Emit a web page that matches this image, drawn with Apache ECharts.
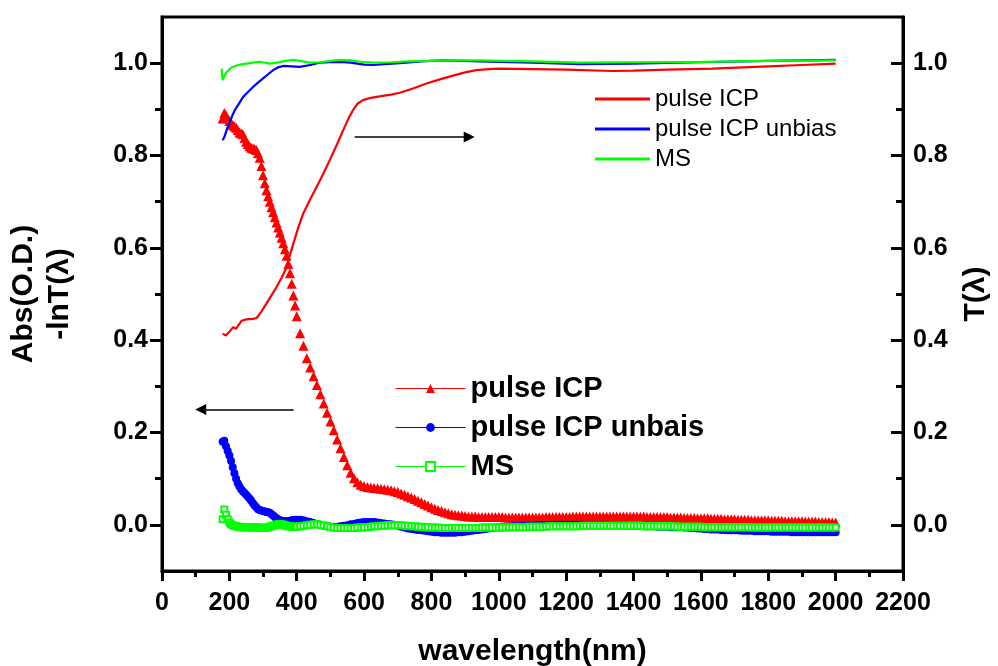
<!DOCTYPE html>
<html>
<head>
<meta charset="utf-8">
<script src="https://cdn.jsdelivr.net/npm/echarts@6/dist/echarts.min.js"></script>
<style>
  html, body { margin: 0; padding: 0; background: #fff; }
  #chart { width: 998px; height: 666px; }
</style>
</head>
<body>
<div id="chart"></div>
<script>
// wavelength sampling of the absorbance points (nm): 5 nm up to 400, then 10 nm
const range = (a, b, step) => {
  const out = []
  for (let v = a; v <= b; v += step) out.push(v)
  return out
}
const wl = range(180, 400, 5).concat(range(410, 2000, 10))

// Abs(O.D.) = -lnT, left axis (one value per wl entry)
const absPulse = [
  // 180 - 400, 5 nm
  0.880, 0.892, 0.887, 0.880, 0.875, 0.870, 0.866, 0.863, 0.860, 0.855,
  0.850, 0.848, 0.846, 0.838, 0.830, 0.825, 0.820, 0.817, 0.815, 0.814,
  0.812, 0.805, 0.795, 0.777, 0.757, 0.740, 0.725, 0.712, 0.700, 0.688,
  0.677, 0.666, 0.655, 0.644, 0.633, 0.622, 0.610, 0.597, 0.583, 0.565,
  0.545, 0.522, 0.497, 0.475, 0.452,
  // 410 - 1000
  0.415, 0.388, 0.361, 0.341, 0.322, 0.303, 0.283, 0.263, 0.243, 0.224,
  0.205, 0.185, 0.166, 0.147, 0.129, 0.113, 0.101, 0.092, 0.087, 0.084,
  0.082, 0.081, 0.080, 0.079, 0.078, 0.077, 0.076, 0.075, 0.073, 0.071,
  0.068, 0.065, 0.062, 0.059, 0.056, 0.052, 0.049, 0.045, 0.042, 0.038,
  0.035, 0.032, 0.030, 0.027, 0.025, 0.023, 0.022, 0.021, 0.020, 0.019,
  0.018, 0.018, 0.018, 0.017, 0.017, 0.017, 0.017, 0.017, 0.017, 0.017,
  // 1010 - 2000
  0.017, 0.016, 0.016, 0.016, 0.016, 0.016, 0.016, 0.016, 0.016, 0.016,
  0.016, 0.016, 0.016, 0.017, 0.017, 0.017, 0.017, 0.017, 0.017, 0.017,
  0.017, 0.018, 0.018, 0.018, 0.018, 0.018, 0.018, 0.018, 0.018, 0.018,
  0.018, 0.018, 0.018, 0.018, 0.018, 0.018, 0.018, 0.018, 0.018, 0.018,
  0.018, 0.018, 0.018, 0.017, 0.017, 0.017, 0.017, 0.017, 0.017, 0.017,
  0.016, 0.016, 0.016, 0.016, 0.015, 0.015, 0.015, 0.015, 0.014, 0.014,
  0.014, 0.014, 0.013, 0.013, 0.013, 0.013, 0.012, 0.012, 0.012, 0.012,
  0.011, 0.011, 0.011, 0.011, 0.010, 0.010, 0.010, 0.010, 0.010, 0.010,
  0.009, 0.009, 0.009, 0.009, 0.008, 0.008, 0.008, 0.008, 0.008, 0.008,
  0.007, 0.007, 0.007, 0.007, 0.006, 0.006, 0.006, 0.006, 0.005, 0.005
]
const absUnbias = [
  0.180, 0.182, 0.170, 0.160, 0.150, 0.138, 0.125, 0.112, 0.100, 0.090,
  0.083, 0.077, 0.073, 0.069, 0.065, 0.061, 0.057, 0.052, 0.047, 0.042,
  0.038, 0.034, 0.032, 0.031, 0.030, 0.029, 0.028, 0.027, 0.026, 0.023,
  0.020, 0.017, 0.014, 0.012, 0.010, 0.009, 0.008, 0.008, 0.008, 0.008,
  0.009, 0.010, 0.010, 0.011, 0.011,
  0.011, 0.010, 0.008, 0.006, 0.004, 0.002, 0.000, -0.002, -0.003, -0.004,
  -0.004, -0.004, -0.003, -0.002, -0.001, 0.001, 0.002, 0.004, 0.005, 0.006,
  0.006, 0.006, 0.006, 0.005, 0.004, 0.003, 0.002, 0.001, 0.000, -0.002,
  -0.004, -0.006, -0.008, -0.009, -0.010, -0.011, -0.012, -0.013, -0.014, -0.015,
  -0.016, -0.016, -0.017, -0.017, -0.017, -0.017, -0.017, -0.016, -0.016, -0.015,
  -0.014, -0.013, -0.012, -0.011, -0.010, -0.009, -0.008, -0.007, -0.006, -0.005,
  -0.005, -0.004, -0.004, -0.003, -0.003, -0.003, -0.002, -0.002, -0.002, -0.002,
  -0.001, -0.001, -0.001, -0.001, -0.001, -0.001, 0.000, 0.000, 0.000, 0.000,
  0.000, 0.000, 0.000, 0.000, 0.000, 0.000, 0.000, 0.000, 0.000, 0.000,
  0.000, 0.000, -0.001, -0.001, -0.001, -0.001, -0.001, -0.001, -0.002, -0.002,
  -0.002, -0.002, -0.003, -0.003, -0.003, -0.003, -0.004, -0.004, -0.004, -0.004,
  -0.005, -0.005, -0.005, -0.005, -0.006, -0.006, -0.007, -0.007, -0.008, -0.008,
  -0.009, -0.009, -0.010, -0.010, -0.010, -0.011, -0.011, -0.012, -0.012, -0.012,
  -0.012, -0.013, -0.013, -0.013, -0.013, -0.014, -0.014, -0.014, -0.014, -0.014,
  -0.015, -0.015, -0.015, -0.015, -0.015, -0.015, -0.016, -0.016, -0.016, -0.016,
  -0.016, -0.016, -0.016, -0.016, -0.016, -0.016, -0.016, -0.016, -0.016, -0.016
]
const absMS = [
  0.012, 0.033, 0.022, 0.012, 0.005, 0.001, -0.001, -0.002, -0.003, -0.004,
  -0.004, -0.005, -0.005, -0.005, -0.005, -0.005, -0.005, -0.006, -0.006, -0.006,
  -0.006, -0.006, -0.006, -0.007, -0.007, -0.007, -0.006, -0.005, -0.004, -0.003,
  -0.002, -0.001, 0.000, 0.001, 0.001, 0.001, 0.000, -0.001, -0.002, -0.003,
  -0.003, -0.004, -0.004, -0.004, -0.004,
  -0.003, -0.002, -0.001, 0.000, 0.001, 0.001, 0.000, -0.001, -0.003, -0.005,
  -0.006, -0.007, -0.007, -0.007, -0.007, -0.007, -0.007, -0.006, -0.006, -0.005,
  -0.005, -0.004, -0.003, -0.003, -0.002, -0.002, -0.001, -0.001, -0.001, -0.001,
  -0.001, -0.002, -0.002, -0.003, -0.003, -0.004, -0.004, -0.005, -0.005, -0.006,
  -0.006, -0.006, -0.007, -0.007, -0.007, -0.007, -0.007, -0.007, -0.007, -0.007,
  -0.007, -0.007, -0.007, -0.007, -0.006, -0.006, -0.006, -0.006, -0.006, -0.006,
  -0.006, -0.006, -0.005, -0.005, -0.005, -0.005, -0.005, -0.005, -0.004, -0.004,
  -0.004, -0.004, -0.004, -0.004, -0.003, -0.003, -0.003, -0.003, -0.003, -0.003,
  -0.003, -0.003, -0.003, -0.003, -0.002, -0.002, -0.002, -0.002, -0.002, -0.002,
  -0.002, -0.002, -0.002, -0.002, -0.002, -0.002, -0.002, -0.002, -0.002, -0.002,
  -0.002, -0.002, -0.003, -0.003, -0.003, -0.003, -0.003, -0.003, -0.003, -0.003,
  -0.003, -0.003, -0.004, -0.004, -0.004, -0.004, -0.004, -0.004, -0.004, -0.004,
  -0.005, -0.005, -0.005, -0.005, -0.005, -0.005, -0.005, -0.005, -0.005, -0.005,
  -0.005, -0.005, -0.005, -0.005, -0.006, -0.006, -0.006, -0.006, -0.006, -0.006,
  -0.006, -0.006, -0.006, -0.006, -0.006, -0.006, -0.006, -0.006, -0.006, -0.006,
  -0.006, -0.006, -0.006, -0.006, -0.006, -0.006, -0.006, -0.006, -0.006, -0.006
]

// transmittance T(λ), right axis, [nm, T]
const tPulse = [
  [180, 0.414], [190, 0.410], [200, 0.418], [211, 0.428], [220, 0.425], [236, 0.442],
  [250, 0.445], [270, 0.446], [281, 0.448], [295, 0.462], [310, 0.479], [325, 0.497],
  [340, 0.515], [355, 0.535], [370, 0.558], [380, 0.585], [390, 0.609], [405, 0.645],
  [419, 0.674], [440, 0.705], [459, 0.732], [480, 0.762], [498, 0.790], [520, 0.825],
  [538, 0.855], [555, 0.882], [567, 0.898], [580, 0.912], [597, 0.920], [620, 0.925],
  [646, 0.928], [680, 0.932], [706, 0.936], [745, 0.945], [785, 0.956], [825, 0.965],
  [864, 0.973], [900, 0.980], [933, 0.985], [970, 0.987], [1000, 0.988], [1100, 0.987],
  [1200, 0.986], [1337, 0.983], [1400, 0.984], [1500, 0.986], [1634, 0.988], [1800, 0.993],
  [1900, 0.996], [2000, 0.999]
]
const tUnbias = [
  [180, 0.833], [185, 0.840], [192, 0.855], [200, 0.870], [208, 0.885], [216, 0.898],
  [228, 0.912], [241, 0.927], [256, 0.938], [271, 0.949], [285, 0.958], [300, 0.967],
  [315, 0.976], [330, 0.985], [345, 0.991], [360, 0.994], [385, 0.993], [409, 0.992],
  [440, 0.996], [468, 1.001], [500, 1.002], [528, 1.003], [560, 1.001], [600, 0.997],
  [627, 0.996], [660, 0.998], [706, 1.000], [770, 1.004], [833, 1.006], [900, 1.005],
  [943, 1.004], [1100, 1.001], [1240, 0.998], [1400, 0.999], [1600, 1.002], [1800, 1.005],
  [2000, 1.007]
]
const tMS = [
  [177, 0.988], [180, 0.963], [185, 0.972], [192, 0.981], [205, 0.990], [221, 0.995],
  [240, 0.998], [261, 1.000], [276, 1.002], [291, 1.003], [305, 1.001], [320, 0.999],
  [340, 1.001], [360, 1.004], [389, 1.007], [410, 1.005], [439, 1.001], [470, 1.002],
  [500, 1.005], [528, 1.007], [560, 1.006], [590, 1.003], [626, 1.001], [680, 1.002],
  [730, 1.004], [785, 1.005], [860, 1.006], [943, 1.006], [1100, 1.004], [1240, 1.001],
  [1400, 1.002], [1600, 1.003], [1800, 1.005], [2000, 1.006]
]

// annotation arrows [nm, value]
const arrowT = [[572, 0.84], [912, 0.84]]
const arrowAbs = [[391, 0.25], [115, 0.25]]

const majorTicks = [0, 0.2, 0.4, 0.6, 0.8, 1.0]
const minorTicks = [0.1, 0.3, 0.5, 0.7, 0.9]

const FONT = 'Arial, "Liberation Sans", sans-serif'
const RED = '#ff0000'
const BLUE = '#0000ff'
const GREEN = '#00ff00'

const pairs = vals => wl.map((x, i) => [x, vals[i]])

const tickLabel = {
  fontFamily: FONT,
  fontWeight: 'bold',
  fontSize: 25,
  color: '#000',
}
const nameText = {
  fontFamily: FONT,
  fontWeight: 'bold',
  fontSize: 30,
  color: '#000',
}

const makeY = (position, major) => ({
  type: 'value',
  position,
  min: -0.1,
  max: 1.1,
  axisLine: { show: major, lineStyle: { color: '#000', width: 3 } },
  axisTick: {
    show: true,
    inside: position === 'right',
    length: major ? 12 : 7,
    customValues: major ? majorTicks : minorTicks,
    lineStyle: { color: '#000', width: 3 },
  },
  axisLabel: {
    show: major,
    customValues: majorTicks,
    margin: position === 'right' ? 10 : 14,
    formatter: v => v.toFixed(1),
    ...tickLabel,
  },
  splitLine: { show: false },
})

const chart = echarts.init(document.getElementById('chart'))

const absSeries = (name, data, symbol, size, color) => ({
  name,
  type: 'line',
  yAxisIndex: 0,
  data: pairs(data),
  symbol,
  symbolSize: size,
  showAllSymbol: true,
  itemStyle: { color, borderWidth: 1 },
  lineStyle: { color, width: 1, opacity: 0 },
  z: 3,
})

const tSeries = (name, data, color) => ({
  name,
  type: 'line',
  yAxisIndex: 1,
  data,
  showSymbol: false,
  symbol: 'none',
  itemStyle: { color },
  lineStyle: { color, width: 2.2 },
  z: 4,
})

const arrowLine = (pts) => ({
  silent: true,
  symbol: ['none', 'triangle'],
  symbolSize: 11,
  label: { show: false },
  lineStyle: { color: '#000', width: 1.5, type: 'solid' },
  emphasis: { disabled: true },
  data: [[{ coord: pts[0] }, { coord: pts[1] }]],
})

const sPulseT = tSeries('T:pulse ICP', tPulse, RED)
sPulseT.markLine = arrowLine(arrowT)
const sPulseA = absSeries('A:pulse ICP', absPulse, 'triangle', 10, RED)
sPulseA.markLine = arrowLine(arrowAbs)

chart.setOption({
  backgroundColor: '#fff',
  animation: false,
  grid: {
    left: 162,
    right: 95,
    top: 17,
    bottom: 95,
    outerBoundsMode: 'none',
    show: true,
    borderColor: '#000',
    borderWidth: 3,
  },
  legend: [
    {
      orient: 'vertical',
      left: 590,
      top: 82,
      icon: 'rect',
      itemWidth: 55,
      itemHeight: 3,
      itemGap: 6,
      data: ['T:pulse ICP', 'T:pulse ICP unbias', 'T:MS'],
      formatter: n => n.slice(2),
      textStyle: { fontFamily: FONT, fontSize: 24, color: '#000' },
      selectedMode: false,
    },
    {
      orient: 'vertical',
      left: 390,
      top: 369,
      itemWidth: 70,
      itemHeight: 11,
      itemGap: 10,
      lineStyle: { width: 1, opacity: 1 },
      data: ['A:pulse ICP', 'A:pulse ICP unbais', 'A:MS'],
      formatter: n => n.slice(2),
      textStyle: { fontFamily: FONT, fontSize: 29, fontWeight: 'bold', color: '#000' },
      selectedMode: false,
    },
  ],
  xAxis: {
    type: 'value',
    min: 0,
    max: 2200,
    interval: 200,
    name: 'wavelength(nm)',
    nameLocation: 'middle',
    nameGap: 66,
    nameTextStyle: nameText,
    axisLine: { onZero: false, lineStyle: { color: '#000', width: 3 } },
    axisTick: { length: 10, lineStyle: { color: '#000', width: 3 } },
    minorTick: { show: true, splitNumber: 2, length: 6, lineStyle: { color: '#000', width: 3 } },
    axisLabel: { margin: 20, formatter: v => String(v), ...tickLabel },
    splitLine: { show: false },
    minorSplitLine: { show: false },
  },
  yAxis: [
    {
      ...makeY('left', true),
      name: 'Abs(O.D.)\n-lnT(λ)',
      nameLocation: 'middle',
      nameGap: 84,
      nameTextStyle: { ...nameText, lineHeight: 36 },
    },
    {
      ...makeY('right', true),
      name: 'T(λ)',
      nameLocation: 'middle',
      nameGap: 58,
      nameTextStyle: nameText,
    },
    makeY('left', false),
    makeY('right', false),
  ],
  series: [
    sPulseA,
    absSeries('A:pulse ICP unbais', absUnbias, 'circle', 8, BLUE),
    absSeries('A:MS', absMS, 'emptyRect', 6, GREEN),
    sPulseT,
    tSeries('T:pulse ICP unbias', tUnbias, BLUE),
    tSeries('T:MS', tMS, GREEN),
  ],
})
</script>
</body>
</html>
